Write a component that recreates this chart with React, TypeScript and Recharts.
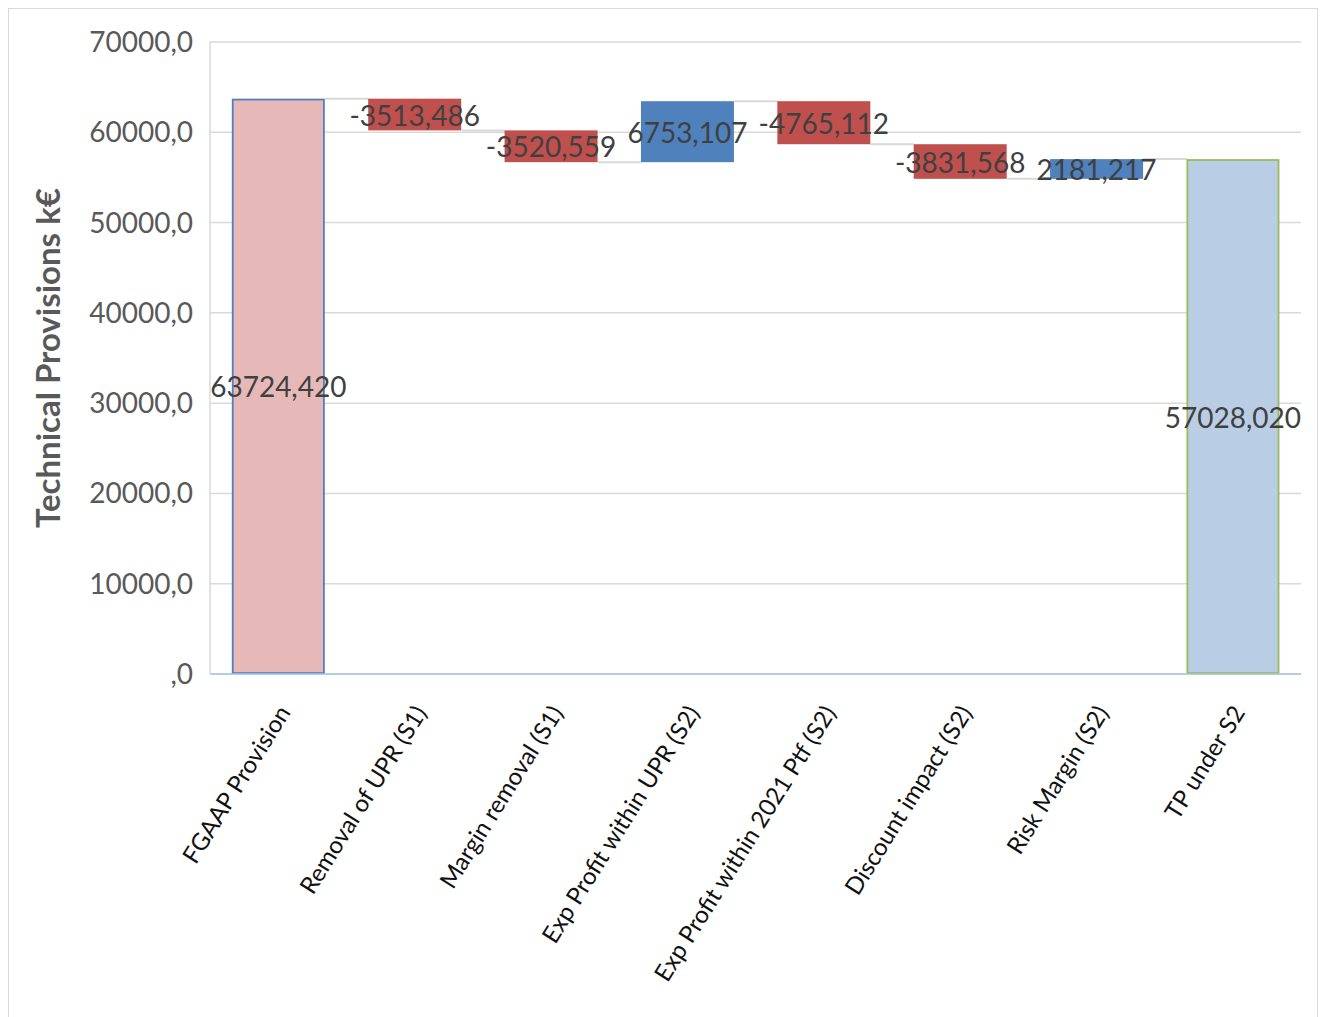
import { BarChart, Bar, XAxis, YAxis, CartesianGrid, LabelList, Cell } from 'recharts';

const categories = [
  'FGAAP Provision',
  'Removal of UPR (S1)',
  'Margin removal (S1)',
  'Exp Profit within UPR (S2)',
  'Exp Profit within 2021 Ptf (S2)',
  'Discount impact (S2)',
  'Risk Margin (S2)',
  'TP under S2',
];
const changes = [63724.42, -3513.486, -3520.559, 6753.107, -4765.112, -3831.568, 2181.217, 57028.02];
const isTotal = [true, false, false, false, false, false, false, true];
const fills = ['#e6b9b8', '#c0504d', '#c0504d', '#4f81bd', '#c0504d', '#c0504d', '#4f81bd', '#b9cde5'];
const strokes = ['#4f81bd', 'none', 'none', 'none', 'none', 'none', 'none', '#9bbb59'];
const yTicks = [0, 10000, 20000, 30000, 40000, 50000, 60000, 70000];

const FONT = 'Lato, "Open Sans", sans-serif';
const GAP = 0.16;

// running totals -> invisible base + visible step
let running = 0;
const data = categories.map((name, i) => {
  const v = changes[i];
  let base: number;
  let size: number;
  if (isTotal[i]) {
    base = 0;
    size = v;
    running = v;
  } else {
    const start = running;
    const end = running + v;
    base = Math.min(start, end);
    size = Math.abs(v);
    running = end;
  }
  return { name, base, size, delta: v, label: v.toFixed(3).replace('.', ',') };
});

const fmtTick = (v: number) => (v === 0 ? ',0' : `${v},0`);

function StepBar(props: any) {
  const { x, y, width, height, index } = props;
  const i = index;
  const band = width / (1 - 2 * GAP);
  const gap = band - width;
  const endY = isTotal[i] || changes[i] >= 0 ? y : y + height;
  const sw = strokes[i] === 'none' ? 0 : 1.8;
  return (
    <g>
      <rect
        x={x + sw / 2}
        y={y + sw / 2}
        width={Math.max(width - sw, 0)}
        height={Math.max(height - sw, 0)}
        fill={fills[i]}
        stroke={strokes[i]}
        strokeWidth={sw}
      />
      {i < categories.length - 1 && (
        <line x1={x + width} x2={x + width + gap} y1={endY} y2={endY} stroke="#d9d9d9" strokeWidth={2} />
      )}
    </g>
  );
}

function BarLabel(props: any) {
  const { x, y, width, height, value } = props;
  return (
    <text
      x={x + width / 2}
      y={y + height / 2}
      textAnchor="middle"
      dominantBaseline="central"
      fontFamily={FONT}
      fontSize={28}
      fill="#404040"
    >
      {value}
    </text>
  );
}

function XTick(props: any) {
  const { x, y, payload } = props;
  return (
    <g transform={`translate(${x + 6},${y + 32})`}>
      <text
        textAnchor="end"
        transform="rotate(-58)"
        dy="0.35em"
        fontFamily={FONT}
        fontSize={24}
        fill="#111"
      >
        {payload.value}
      </text>
    </g>
  );
}

function YTitle(props: any) {
  const vb = props.viewBox || { x: 0, y: 33, width: 201, height: 632 };
  const cx = vb.x + 38;
  const cy = vb.y + vb.height / 2;
  return (
    <text
      x={cx}
      y={cy}
      transform={`rotate(-90, ${cx}, ${cy})`}
      textAnchor="middle"
      dominantBaseline="central"
      fontFamily={FONT}
      fontWeight="bold"
      fontSize={33}
      fill="#595959"
    >
      Technical Provisions k€
    </text>
  );
}

export default function App() {
  return (
    <div style={{ position: 'relative', width: 1310 }}>
      <div
        style={{
          position: 'absolute',
          top: -22,
          left: 4,
          fontFamily: '"Liberation Serif", serif',
          fontWeight: 'bold',
          fontSize: 26,
          lineHeight: '24px',
          color: '#1f4e79',
          whiteSpace: 'nowrap',
        }}
      >
        Technical Provisions:
      </div>
      <div
        style={{
          width: 1310,
          height: 1040,
          border: '1px solid #d9d9d9',
          boxSizing: 'border-box',
          background: '#fff',
          overflow: 'hidden',
        }}
      >
        <BarChart
          width={1308}
          height={1030}
          data={data}
          margin={{ top: 33, right: 16, left: 0, bottom: 0 }}
          barCategoryGap={`${GAP * 100}%`}
        >
          <CartesianGrid vertical={false} stroke="#d9d9d9" strokeWidth={1.5} />
          <XAxis
            dataKey="name"
            interval={0}
            height={365}
            tickLine={false}
            tickSize={0}
            axisLine={{ stroke: '#a9c4e4', strokeWidth: 1.5 }}
            tick={<XTick />}
          />
          <YAxis
            width={201}
            domain={[0, 70000]}
            ticks={yTicks}
            tickFormatter={fmtTick}
            tickLine={false}
            tickSize={0}
            tickMargin={17}
            axisLine={{ stroke: '#d9d9d9', strokeWidth: 1.5 }}
            tick={{ fontFamily: FONT, fontSize: 28, fill: '#595959' }}
            label={{ content: <YTitle /> }}
          />
          <Bar dataKey="base" stackId="w" fill="transparent" isAnimationActive={false} />
          <Bar dataKey="size" stackId="w" shape={<StepBar />} isAnimationActive={false}>
            {data.map((d, i) => (
              <Cell key={d.name} fill={fills[i]} />
            ))}
            <LabelList dataKey="label" content={<BarLabel />} />
          </Bar>
        </BarChart>
      </div>
    </div>
  );
}
